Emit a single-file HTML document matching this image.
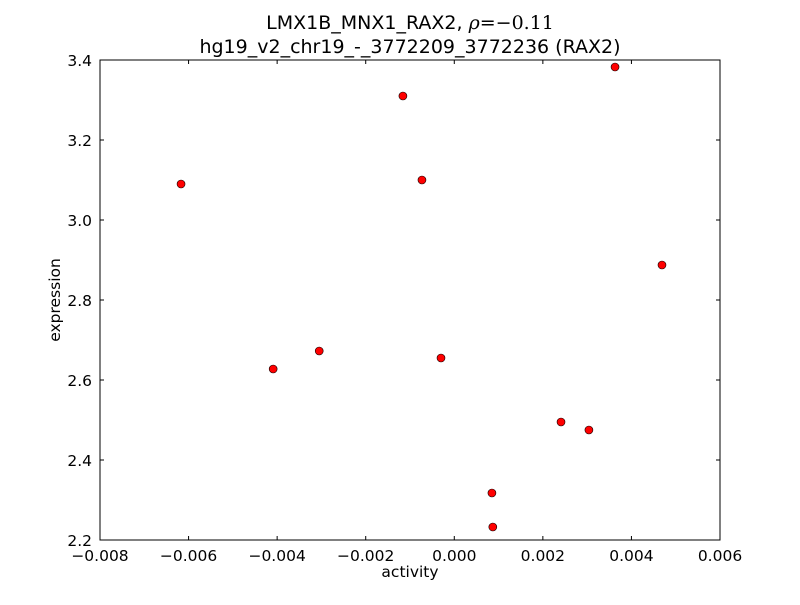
<!DOCTYPE html>
<html><head><meta charset="utf-8"><style>
body{margin:0;background:#fff;}
text{font-family:"DejaVu Sans","Liberation Sans",sans-serif;fill:#000;}
</style></head><body>
<svg id="chart" width="800" height="600" xmlns="http://www.w3.org/2000/svg">
<rect x="0" y="0" width="800" height="600" fill="#fff"/>
<text x="410" y="29" font-size="19" text-anchor="middle">LMX1B_MNX1_RAX2, <tspan font-family="DejaVu Serif" font-style="italic">ρ</tspan><tspan font-family="DejaVu Serif">=−0.11</tspan></text>
<text x="410" y="53" font-size="19" text-anchor="middle">hg19_v2_chr19_-_3772209_3772236 (RAX2)</text>
<g id="ticks"></g>
<g id="points"></g>
<rect x="100" y="60" width="620" height="480" fill="none" stroke="#000" stroke-width="1"/>
<text x="410" y="577" font-size="15.5" text-anchor="middle">activity</text>
<text transform="translate(60,300) rotate(-90)" font-size="15.5" text-anchor="middle">expression</text>
</svg>
<script>
const xVals=[-0.00617,-0.00409,-0.00305,-0.00116,-0.00073,-0.0003,0.00085,0.00087,0.00241,0.00304,0.00363,0.00469];
const yVals=[3.09,2.6275,2.6725,3.31,3.10,2.655,2.3175,2.2325,2.495,2.475,3.3825,2.8875];
const xTicks=[-0.008,-0.006,-0.004,-0.002,0.000,0.002,0.004,0.006];
const xTickLabels=["−0.008","−0.006","−0.004","−0.002","0.000","0.002","0.004","0.006"];
const yTicks=[2.2,2.4,2.6,2.8,3.0,3.2,3.4];
const yTickLabels=["2.2","2.4","2.6","2.8","3.0","3.2","3.4"];
const X0=100,X1=720,Y0=540,Y1=60,xmin=-0.008,xmax=0.006,ymin=2.2,ymax=3.4;
function sx(v){return X0+(v-xmin)/(xmax-xmin)*(X1-X0);}
function sy(v){return Y0-(v-ymin)/(ymax-ymin)*(Y0-Y1);}
const NS="http://www.w3.org/2000/svg";
const tg=document.getElementById('ticks'),pg=document.getElementById('points');
function mk(tag,a,p){const e=document.createElementNS(NS,tag);for(const k in a)e.setAttribute(k,a[k]);p.appendChild(e);return e;}
xTicks.forEach((t,i)=>{const x=sx(t);
 mk('line',{x1:x,x2:x,y1:Y0,y2:Y0-4,stroke:'#000'},tg);
 mk('line',{x1:x,x2:x,y1:Y1,y2:Y1+4,stroke:'#000'},tg);
 const tx=mk('text',{x:x,y:Y0+21,'font-size':15.5,'text-anchor':'middle'},tg);tx.textContent=xTickLabels[i];
 
 
});
yTicks.forEach((t,i)=>{const y=sy(t);
 mk('line',{x1:X0,x2:X0+4,y1:y,y2:y,stroke:'#000'},tg);
 mk('line',{x1:X1,x2:X1-4,y1:y,y2:y,stroke:'#000'},tg);
 const tx=mk('text',{x:X0-8,y:y+6,'font-size':15.5,'text-anchor':'end'},tg);tx.textContent=yTickLabels[i];
 
 
});
xVals.forEach((v,i)=>{
 const c=mk('circle',{cx:sx(v),cy:sy(yVals[i]),r:4,fill:'#ff0000',stroke:'#000','stroke-width':0.6},pg);
 
 
});
</script>
</body></html>
